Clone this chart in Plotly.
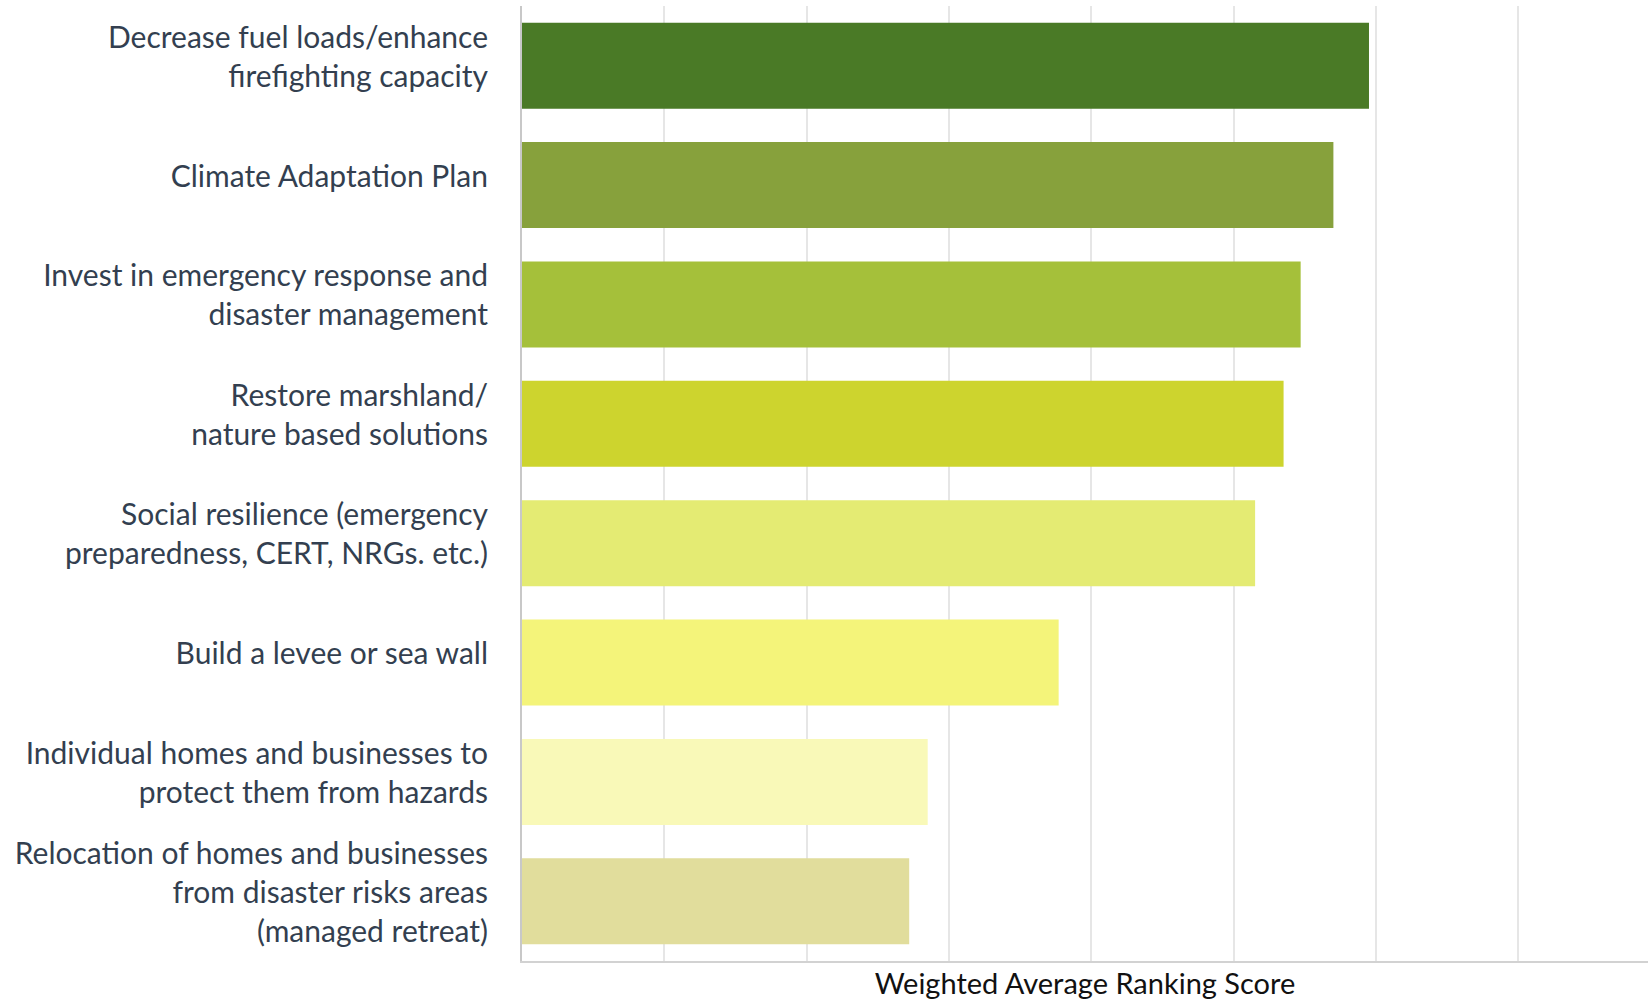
import plotly.graph_objects as go

categories = [
    "Decrease fuel loads/enhance<br>firefighting capacity",
    "Climate Adaptation Plan",
    "Invest in emergency response and<br>disaster management",
    "Restore marshland/<br>nature based solutions",
    "Social resilience (emergency<br>preparedness, CERT, NRGs. etc.)",
    "Build a levee or sea wall",
    "Individual homes and businesses to<br>protect them from hazards",
    "Relocation of homes and businesses<br>from disaster risks areas<br>(managed retreat)",
]
scores = [5.95, 5.70, 5.47, 5.35, 5.15, 3.77, 2.85, 2.72]
colors = ["#4a7a26", "#87a13c", "#a5c03a", "#cdd42e", "#e4eb73", "#f4f47a", "#f9f9b8", "#e1dd9c"]
x_title = "Weighted Average Ranking Score"

fig = go.Figure(
    go.Bar(
        x=scores,
        y=categories,
        orientation="h",
        marker=dict(color=colors, line=dict(width=0)),
        hoverinfo="x+y",
    )
)

fig.update_layout(
    width=1648,
    height=1000,
    margin=dict(l=522, r=0, t=6, b=39),
    paper_bgcolor="white",
    plot_bgcolor="white",
    bargap=0.28,
    showlegend=False,
    font=dict(family="Lato, sans-serif", color="#333f50"),
)

fig.update_xaxes(
    range=[0, 7.91],
    dtick=1,
    tick0=0,
    showticklabels=False,
    showgrid=True,
    gridcolor="#e6e6e6",
    gridwidth=2,
    zeroline=False,
    showline=True,
    linecolor="#d2d2d2",
    linewidth=2,
    title=dict(text=x_title, font=dict(size=29, color="#111111", family="Lato, sans-serif"), standoff=12),
    automargin=False,
    fixedrange=True,
)

fig.update_yaxes(
    categoryorder="array",
    categoryarray=list(reversed(categories)),
    showgrid=False,
    zeroline=False,
    showline=True,
    linecolor="#c8c8c8",
    linewidth=2,
    ticks="",
    ticklabelstandoff=26,
    ticklabelshift=-9,
    tickfont=dict(size=30, color="#333f50", family="Lato, sans-serif"),
    automargin=False,
    fixedrange=True,
)

fig.write_html(
    "out.html",
    config={"displayModeBar": False},
    post_script="document.body.style.margin='0';document.body.style.overflow='hidden';",
)
